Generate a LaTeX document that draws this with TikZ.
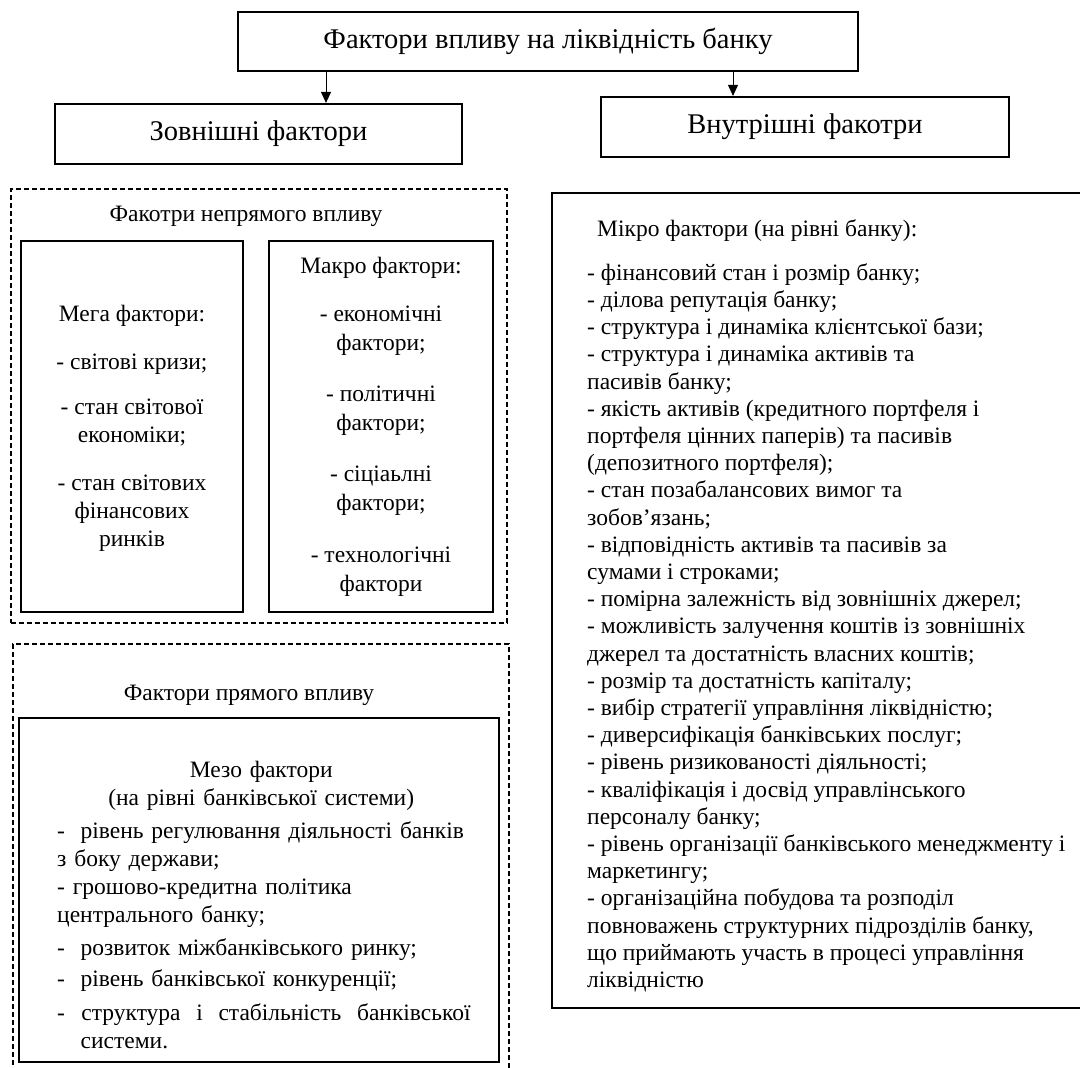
\documentclass[tikz,border=0pt]{standalone}
\usepackage{fontspec}
\setmainfont{Liberation Serif}
\usetikzlibrary{arrows.meta}

\begin{document}
\begin{tikzpicture}[x=1pt,y=-1pt,
  box/.style={draw, line width=2.2pt, inner sep=0pt},
  dbox/.style={draw, line width=1.8pt, dash pattern=on 5pt off 3pt, inner sep=0pt},
  big/.style={font=\fontsize{28.5}{33}\selectfont},
  txt/.style={font=\fontsize{23.5}{28}\selectfont, align=center, inner sep=0pt},
  arr/.style={-{Triangle[length=11pt,width=10pt]}, line width=1pt}]
\useasboundingbox (0,0) rectangle (1080,1068);

% top level
\node[box, big, minimum width=620pt, minimum height=59pt] (title) at (548,41.5) {Фактори впливу на ліквідність банку};
\node[box, big, minimum width=407pt, minimum height=60pt] (ext) at (258.5,134) {Зовнішні фактори};
\node[box, big, minimum width=408pt, minimum height=60pt] (int) at (805,127) {Внутрішні факотри};
\coordinate (a1) at (326,0);
\coordinate (a2) at (733,0);
\draw[arr] (title.south -| a1) -- (ext.north -| a1);
\draw[arr] (title.south -| a2) -- (int.north -| a2);

% indirect influence
\node[dbox, minimum width=496pt, minimum height=434pt] (indir) at (259,406) {};
\node[txt] (indirlbl) at (246,216) {Факотри непрямого впливу};
\node[box, minimum width=222pt, minimum height=371pt] (mega) at (132,426.5) {};
\node[txt] (megatxt) at (132,428)
  {Мега фактори:\\[20pt] - світові кризи;\\[17pt] - стан світової\\ економіки;\\[20pt]
   - стан світових\\ фінансових\\ ринків};
\node[box, txt, minimum width=224pt, minimum height=371pt, font=\fontsize{23.5}{29}\selectfont] (macro) at (381,426.5)
  {Макро фактори:\\[19pt] - економічні\\ фактори;\\[22pt] - політичні\\ фактори;\\[22pt]
   - сіціаьлні\\ фактори;\\[23pt] - технологічні\\ фактори};

% direct influence
\node[dbox, minimum width=496pt, minimum height=440pt] (dir) at (261,864) {};
\node[txt] (dirlbl) at (249,695) {Фактори прямого впливу};
\node[box, minimum width=480pt, minimum height=344pt] (mezo) at (259,890) {};
\node[txt, align=left, text width=408pt, anchor=north west] (mezotxt) at (57,761)
  {\makebox[\linewidth]{Мезо фактори}\\
   \makebox[\linewidth]{(на рівні банківської системи)}\\[5pt]
   -~~рівень регулювання діяльності банків\\ з боку держави;\\
   - грошово-кредитна політика\\ центрального банку;\\[5pt]
   -~~розвиток міжбанківського ринку;\\[3pt]
   -~~рівень банківської конкуренції;\\[6pt]
   -\hspace{0.7em}структура~~і~~стабільність~~банківської\\
   \hspace*{1em}системи.};

% internal factors
\node[box, minimum width=538pt, minimum height=815pt] (micro) at (821,600.5) {};
\node[txt, align=left, anchor=north west, font=\fontsize{23.5}{27.2}\selectfont] (microtxt) at (587,219)
  {\hspace*{10pt}Мікро фактори (на рівні банку):\\[17pt]
   - фінансовий стан і розмір банку;\\
   - ділова репутація банку;\\
   - структура і динаміка клієнтської бази;\\
   - структура і динаміка активів та\\
   пасивів банку;\\
   - якість активів (кредитного портфеля і\\
   портфеля цінних паперів) та пасивів\\
   (депозитного портфеля);\\
   - стан позабалансових вимог та\\
   зобов’язань;\\
   - відповідність активів та пасивів за\\
   сумами і строками;\\
   - помірна залежність від зовнішніх джерел;\\
   - можливість залучення коштів із зовнішніх\\
   джерел та достатність власних коштів;\\
   - розмір та достатність капіталу;\\
   - вибір стратегії управління ліквідністю;\\
   - диверсифікація банківських послуг;\\
   - рівень ризикованості діяльності;\\
   - кваліфікація і досвід управлінського\\
   персоналу банку;\\
   - рівень організації банківського менеджменту і\\
   маркетингу;\\
   - організаційна побудова та розподіл\\
   повноважень структурних підрозділів банку,\\
   що приймають участь в процесі управління\\
   ліквідністю};
\end{tikzpicture}
\end{document}
